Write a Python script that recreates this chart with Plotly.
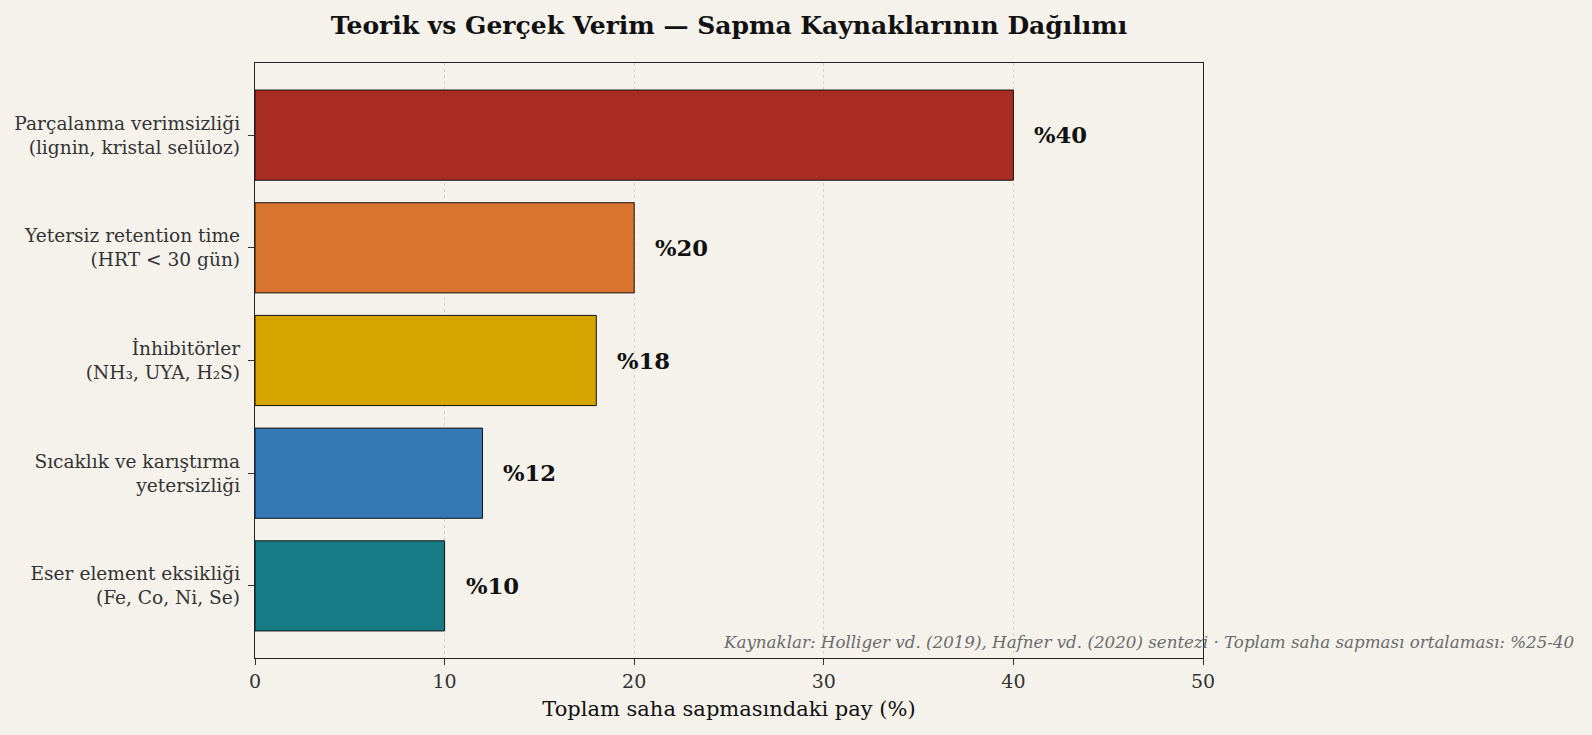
import plotly.graph_objects as go

# --- data ---
categories = [
    "Parçalanma verimsizliği<br>(lignin, kristal selüloz)",
    "Yetersiz retention time<br>(HRT < 30 gün)",
    "İnhibitörler<br>(NH₃, UYA, H₂S)",
    "Sıcaklık ve karıştırma<br>yetersizliği",
    "Eser element eksikliği<br>(Fe, Co, Ni, Se)",
]
shares = [40, 20, 18, 12, 10]
bar_colors = ["#a82c22", "#d9742e", "#d6a500", "#3478b6", "#167b85"]
x_ticks = [0, 10, 20, 30, 40, 50]

BG = "#f5f2eb"
FONT = "DejaVu Serif"
L, R, T, B = 255, 389, 63, 77

fig = go.Figure()

fig.add_trace(go.Bar(
    x=shares, y=categories, orientation="h",
    marker=dict(color=bar_colors, line=dict(color="#111111", width=1)),
    width=0.8, showlegend=False, hoverinfo="x+y",
))

# value labels to the right of each bar
for cat, v in zip(categories, shares):
    fig.add_annotation(
        x=v + 1, y=cat, text=f"<b>%{v}</b>", showarrow=False,
        xanchor="left", yanchor="middle",
        font=dict(family=FONT, size=22.7, color="#111111"),
    )

# source note
fig.add_annotation(
    xref="paper", yref="paper", x=1.3945, y=0.027,
    text="<i>Kaynaklar: Holliger vd. (2019), Hafner vd. (2020) sentezi · Toplam saha sapması ortalaması: %25-40</i>",
    showarrow=False, xanchor="right", yanchor="middle",
    font=dict(family=FONT, size=16.7, color="#6b6b6b"),
)

fig.update_layout(
    width=1592, height=735,
    paper_bgcolor=BG, plot_bgcolor=BG,
    margin=dict(l=L, r=R, t=T, b=B),
    title=dict(
        text="<b>Teorik vs Gerçek Verim — Sapma Kaynaklarının Dağılımı</b>",
        x=(L + 1592 - R) / 2 / 1592, xanchor="center", y=0.965, yanchor="middle",
        font=dict(family=FONT, size=25, color="#111111"),
    ),
    font=dict(family=FONT, color="#333333"),
    bargap=0.2,
)

fig.update_xaxes(
    range=[0, 50], tickvals=x_ticks, ticks="outside", ticklen=6,
    tickcolor="#333333", tickfont=dict(family=FONT, size=19, color="#333333"),
    showgrid=True, gridcolor="#d8d4cc", griddash="dot", gridwidth=1,
    showline=True, linecolor="#222222", linewidth=1.3, mirror=True,
    zeroline=False,
    title=dict(text="Toplam saha sapmasındaki pay (%)",
               font=dict(family=FONT, size=21, color="#111111"), standoff=10),
)
fig.update_yaxes(
    categoryorder="array", categoryarray=categories[::-1],
    range=[-0.64, 4.64], ticks="outside", ticklen=6, tickcolor="#333333",
    tickfont=dict(family=FONT, size=18.6, color="#333333"), ticklabelstandoff=4,
    showgrid=False, showline=True, linecolor="#222222", linewidth=1.3, mirror=True,
)

fig.write_html("out.html", config={"displayModeBar": False},
               post_script="document.body.style.margin='0';")
